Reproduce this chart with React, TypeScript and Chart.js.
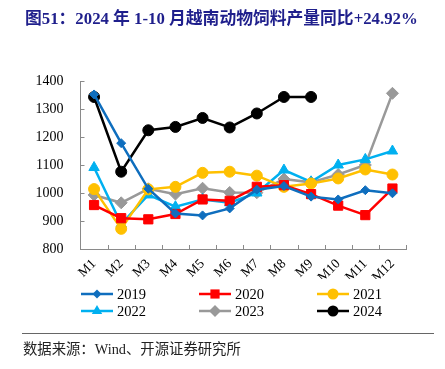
import React, { useEffect, useRef } from "react";
import { Chart, registerables } from "chart.js";

Chart.register(...registerables);

const TITLE = "图51：2024 年 1-10 月越南动物饲料产量同比+24.92%";
const SOURCE = "数据来源：Wind、开源证券研究所";
const MONTHS = ["M1", "M2", "M3", "M4", "M5", "M6", "M7", "M8", "M9", "M10", "M11", "M12"];
const Y_TICKS = [800, 900, 1000, 1100, 1200, 1300, 1400];

const S2019 = [1352, 1178, 1015, 927, 920, 945, 1012, 1025, 987, 977, 1010, 999];
const S2020 = [957, 910, 906, 925, 977, 972, 1022, 1028, 996, 955, 921, 1016];
const S2021 = [1014, 872, 1013, 1022, 1072, 1076, 1062, 1022, 1034, 1052, 1084, 1066];
const S2022 = [1091, 889, 993, 951, 977, 965, 1000, 1082, 1040, 1100, 1120, 1150];
const S2023 = [993, 965, 1015, 996, 1017, 1002, 1001, 1050, 1038, 1066, 1100, 1356];
const S2024 = [1343, 1076, 1224, 1236, 1268, 1234, 1284, 1343, 1343];

const SERIES = [
  { label: "2019", data: S2019, color: "#0F6EBE", style: "rectRot", r: 4.5 },
  { label: "2020", data: S2020, color: "#FF0000", style: "rect", r: 6.5 },
  { label: "2021", data: S2021, color: "#FFC000", style: "circle", r: 5.5 },
  { label: "2022", data: S2022, color: "#00B0F0", style: "triangle", r: 6 },
  { label: "2023", data: S2023, color: "#999999", style: "rectRot", r: 6 },
  { label: "2024", data: S2024, color: "#000000", style: "circle", r: 5.5 },
];

const SERIF = '"Liberation Serif", "Noto Sans CJK SC", serif';
const AXIS = "#8a8a8a";

function fitText(ctx: CanvasRenderingContext2D, text: string, weight: string, target: number, base: number) {
  ctx.font = `${weight} ${base}px ${SERIF}`;
  const w = ctx.measureText(text).width;
  const size = (base * target) / w;
  ctx.font = `${weight} ${size}px ${SERIF}`;
}

function drawMarker(ctx: CanvasRenderingContext2D, style: string, r: number, x: number, y: number) {
  ctx.beginPath();
  if (style === "circle") {
    ctx.arc(x, y, r, 0, Math.PI * 2);
  } else if (style === "rect") {
    const s = Math.SQRT1_2 * r;
    ctx.rect(x - s, y - s, 2 * s, 2 * s);
  } else if (style === "rectRot") {
    ctx.moveTo(x, y - r);
    ctx.lineTo(x + r, y);
    ctx.lineTo(x, y + r);
    ctx.lineTo(x - r, y);
    ctx.closePath();
  } else if (style === "triangle") {
    const w = (r * Math.sqrt(3)) / 2;
    ctx.moveTo(x, y - r);
    ctx.lineTo(x + w, y + r / 2);
    ctx.lineTo(x - w, y + r / 2);
    ctx.closePath();
  }
  ctx.fill();
}

const decor = {
  id: "decor",
  afterDraw(chart: any) {
    const ctx = chart.ctx as CanvasRenderingContext2D;
    const xs = chart.scales.x;
    const ys = chart.scales.y;
    ctx.save();
    ctx.strokeStyle = AXIS;
    ctx.lineWidth = 1;
    const n = MONTHS.length;
    const step = (xs.right - xs.left) / n;
    ctx.beginPath();
    for (let i = 1; i <= n; i++) {
      const x = Math.round(xs.left + i * step) + 0.5;
      ctx.moveTo(x, ys.bottom);
      ctx.lineTo(x, ys.bottom - 4);
    }
    for (const v of Y_TICKS) {
      const y = Math.round(ys.getPixelForValue(v)) + 0.5;
      ctx.moveTo(xs.left, y);
      ctx.lineTo(xs.left + 4, y);
    }
    ctx.stroke();

    // title
    ctx.fillStyle = "#1F1F8C";
    fitText(ctx, TITLE, "bold", 393, 16);
    ctx.textBaseline = "middle";
    ctx.textAlign = "left";
    ctx.fillText(TITLE, 25, 20);

    // legend
    const cols = [81, 199, 317];
    const rows = [294, 311];
    ctx.font = `14.5px ${SERIF}`;
    SERIES.forEach((s, i) => {
      const cx = cols[i % 3];
      const cy = rows[Math.floor(i / 3)];
      ctx.strokeStyle = s.color;
      ctx.lineWidth = 2.5;
      ctx.beginPath();
      ctx.moveTo(cx, cy);
      ctx.lineTo(cx + 32, cy);
      ctx.stroke();
      ctx.fillStyle = s.color;
      drawMarker(ctx, s.style, s.r, cx + 16, cy);
      ctx.fillStyle = "#000";
      ctx.textAlign = "left";
      ctx.textBaseline = "middle";
      ctx.fillText(s.label, cx + 36, cy + 1);
    });

    // footer
    ctx.strokeStyle = "#666";
    ctx.lineWidth = 1;
    ctx.beginPath();
    ctx.moveTo(22, 333.5);
    ctx.lineTo(434, 333.5);
    ctx.stroke();
    ctx.fillStyle = "#222";
    fitText(ctx, SOURCE, "normal", 218, 14);
    ctx.textBaseline = "middle";
    ctx.fillText(SOURCE, 23, 350);
    ctx.restore();
  },
};

export default function App() {
  const ref = useRef<HTMLCanvasElement>(null);
  useEffect(() => {
    if (!ref.current) return;
    const chart = new Chart(ref.current, {
      type: "line",
      data: {
        labels: MONTHS,
        datasets: SERIES.map((s) => ({
          label: s.label,
          data: s.data,
          borderColor: s.color,
          backgroundColor: s.color,
          borderWidth: 2.5,
          pointStyle: s.style as any,
          pointRadius: s.r,
          pointBorderWidth: 1,
          tension: 0,
          fill: false,
        })),
      },
      options: {
        responsive: false,
        animation: false,
        devicePixelRatio: 1,
        layout: { padding: { top: 81, right: 39, bottom: 90, left: 0 } },
        plugins: { legend: { display: false }, tooltip: { enabled: false }, title: { display: false } },
        scales: {
          x: {
            offset: true,
            grid: { display: false, drawTicks: false },
            border: { color: AXIS, width: 1 },
            ticks: {
              autoSkip: false,
              minRotation: 45,
              maxRotation: 45,
              padding: 7,
              color: "#000",
              font: { family: SERIF, size: 13.5 },
            },
            afterFit: (s: any) => {
              s.height = 30;
            },
          },
          y: {
            min: 800,
            max: 1400,
            grid: { display: false, drawTicks: false },
            border: { color: AXIS, width: 1 },
            ticks: {
              stepSize: 100,
              padding: 17,
              color: "#000",
              font: { family: SERIF, size: 14 },
              callback: (v: any) => String(v),
            },
            afterFit: (s: any) => {
              s.width = 80.5;
            },
          },
        },
      },
      plugins: [decor],
    });
    return () => chart.destroy();
  }, []);
  return (
    <div style={{ position: "fixed", left: 0, top: 0, width: 445, height: 369, background: "#fff" }}>
      <canvas ref={ref} width={445} height={369} />
    </div>
  );
}
